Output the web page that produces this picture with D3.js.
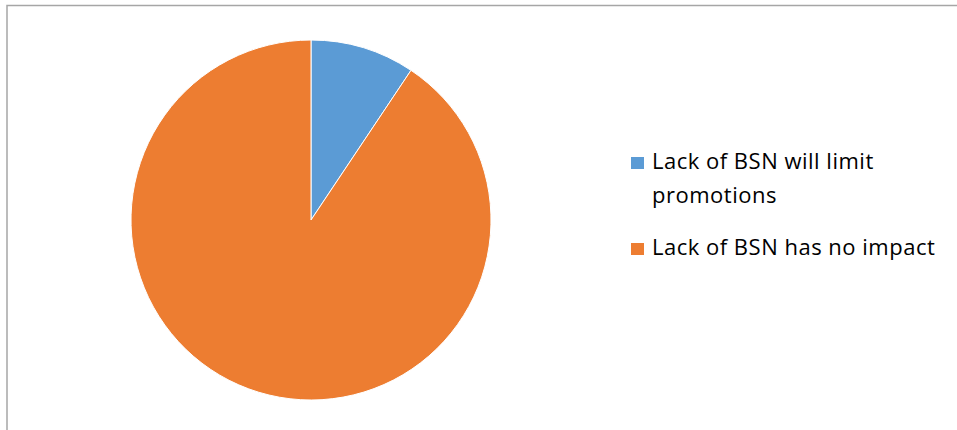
<!DOCTYPE html>
<html>
<head>
<meta charset="utf-8">
<script src="https://cdn.jsdelivr.net/npm/d3@7"></script>
<style>
  body { margin: 0; background: #fff; }
  svg { display: block; }
</style>
</head>
<body>
<div class="chart"></div>
<script>
const labels = ["Lack of BSN will limit promotions", "Lack of BSN has no impact"]
const values = [3, 29]
const colours = ["#5B9BD5", "#ED7D31"]

const width = 957
const height = 430

const svg = d3.select(".chart")
    .append("svg")
    .attr("width", width)
    .attr("height", height)

// chart area border (only top/left fall inside the picture)
svg.append("rect")
    .attr("x", 7)
    .attr("y", 5.5)
    .attr("width", 1000)
    .attr("height", 500)
    .attr("fill", "none")
    .attr("stroke", "#a6a6a6")
    .attr("stroke-width", 1.5)

const data = labels.map((d, i) => ({ label: d, value: values[i] }))

const pie = d3.pie()
    .value(d => d.value)
    .sort(null)

const arc = d3.arc()
    .innerRadius(0)
    .outerRadius(180)

const colour = d3.scaleOrdinal()
    .domain(labels)
    .range(colours)

svg.append("g")
    .attr("transform", "translate(311,220)")
    .selectAll("path")
    .data(pie(data))
    .join("path")
    .attr("d", arc)
    .attr("fill", d => colour(d.data.label))
    .attr("stroke", "#fff")
    .attr("stroke-width", 1)

// legend
const legendLines = [["Lack of BSN will limit", "promotions"], ["Lack of BSN has no impact"]]
const legendY = [169, 255]

const legend = svg.append("g")
    .attr("font-family", "'Open Sans', sans-serif")
    .attr("font-size", 22)
    .attr("letter-spacing", 0.5)
    .attr("fill", "#000")

const item = legend.selectAll("g")
    .data(data)
    .join("g")
    .attr("transform", (d, i) => `translate(0,${legendY[i]})`)

item.append("rect")
    .attr("x", 631)
    .attr("y", -12)
    .attr("width", 13)
    .attr("height", 12)
    .attr("fill", d => colour(d.label))

item.append("text")
    .selectAll("tspan")
    .data((d, i) => legendLines[i])
    .join("tspan")
    .attr("x", 652)
    .attr("y", (d, j) => j * 34)
    .text(d => d)
</script>
</body>
</html>
